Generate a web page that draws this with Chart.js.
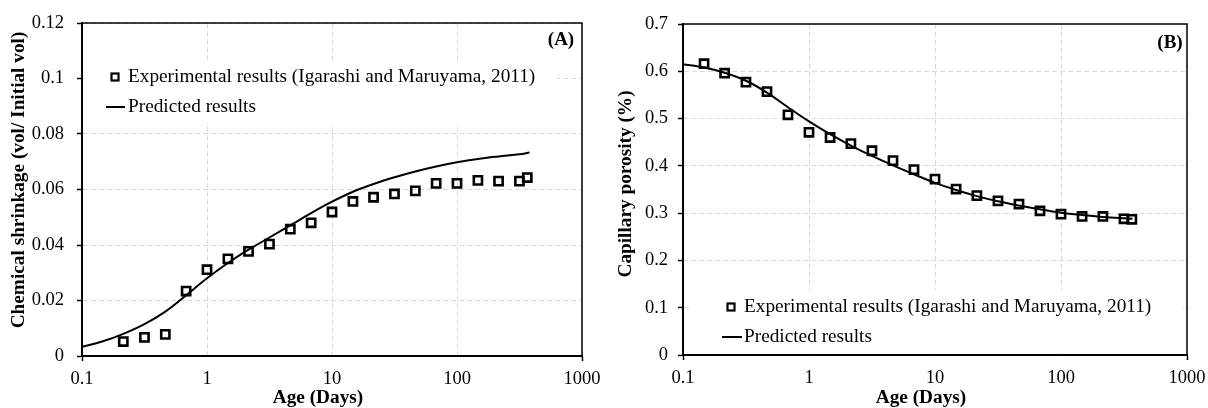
<!DOCTYPE html>
<html>
<head>
<meta charset="utf-8">
<script src="https://cdn.jsdelivr.net/npm/chart.js@4.4.1/dist/chart.umd.min.js"></script>
<style>
  html, body { margin: 0; padding: 0; background: #fff; }
  .wrap { display: flex; width: 1208px; height: 408px; }
  canvas { display: block; }
</style>
</head>
<body>
<div class="wrap">
  <canvas id="chartA" width="604" height="408"></canvas>
  <canvas id="chartB" width="604" height="408"></canvas>
</div>
<script>
// Axis ticks
const xTicks = [0.1, 1, 10, 100, 1000];
const yTicksA = [0, 0.02, 0.04, 0.06, 0.08, 0.1, 0.12];
const yTicksB = [0, 0.1, 0.2, 0.3, 0.4, 0.5, 0.6, 0.7];

// (A) chemical shrinkage
const ageExpA = [0.214, 0.316, 0.464, 0.681, 1, 1.47, 2.15, 3.16, 4.64, 6.81, 10, 14.7, 21.5, 31.6, 46.4, 68.1, 100, 147, 215, 316, 365];
const shrinkExp = [0.0052, 0.0067, 0.0078, 0.0234, 0.0311, 0.035, 0.0377, 0.0403, 0.0457, 0.048, 0.0519, 0.0557, 0.0572, 0.0584, 0.0595, 0.0622, 0.0622, 0.0633, 0.063, 0.063, 0.0643];
const agePredA = [0.1, 0.147, 0.214, 0.316, 0.464, 0.681, 1, 1.47, 2.15, 3.16, 4.64, 6.81, 10, 14.7, 21.5, 31.6, 46.4, 68.1, 100, 147, 215, 316, 380];
const shrinkPred = [0.0033, 0.0053, 0.008, 0.0115, 0.016, 0.0219, 0.028, 0.0335, 0.0383, 0.0427, 0.0471, 0.0515, 0.0556, 0.0592, 0.062, 0.0644, 0.0665, 0.0683, 0.0698, 0.071, 0.0719, 0.0727, 0.0733];

// (B) capillary porosity
const ageExpB = [0.147, 0.214, 0.316, 0.464, 0.681, 1, 1.47, 2.15, 3.16, 4.64, 6.81, 10, 14.7, 21.5, 31.6, 46.4, 68.1, 100, 147, 215, 316, 365];
const porosityExp = [0.616, 0.596, 0.577, 0.557, 0.508, 0.471, 0.46, 0.447, 0.432, 0.411, 0.392, 0.372, 0.351, 0.337, 0.326, 0.319, 0.305, 0.298, 0.293, 0.293, 0.288, 0.287];
const agePredB = [0.1, 0.147, 0.214, 0.316, 0.464, 0.681, 1, 1.47, 2.15, 3.16, 4.64, 6.81, 10, 14.7, 21.5, 31.6, 46.4, 68.1, 100, 147, 215, 316, 370];
const porosityPred = [0.615, 0.608, 0.597, 0.58, 0.555, 0.524, 0.494, 0.467, 0.443, 0.421, 0.401, 0.382, 0.364, 0.349, 0.336, 0.325, 0.316, 0.308, 0.301, 0.296, 0.292, 0.289, 0.288];

const labelExp = 'Experimental results (Igarashi and Maruyama, 2011)';
const labelPred = 'Predicted results';
const xTitle = 'Age (Days)';

const SERIF = "'Liberation Serif', 'Times New Roman', serif";
Chart.defaults.font.family = SERIF;
Chart.defaults.color = '#000';

const toPoints = (xs, ys) => xs.map((x, i) => ({ x: x, y: ys[i] }));
const fmt = v => String(Number(v.toFixed(4)));

// legend box, frame, axis titles and panel letter
const decor = {
  id: 'decor',
  afterDatasetsDraw(chart, args, opts) {
    const ctx = chart.ctx;
    const a = chart.chartArea;
    const lg = opts.legend;
    ctx.save();
    ctx.fillStyle = '#fff';
    ctx.fillRect(lg.x, lg.y, lg.w, lg.h);

    ctx.strokeStyle = '#000';
    ctx.lineWidth = 2.2;
    ctx.strokeRect(lg.markX - 3.5, lg.row1 - 3.5, 7, 7);
    ctx.lineWidth = 2;
    ctx.beginPath();
    ctx.moveTo(lg.lineX1, lg.row2);
    ctx.lineTo(lg.lineX2, lg.row2);
    ctx.stroke();

    ctx.fillStyle = '#000';
    ctx.font = '19.3px ' + SERIF;
    ctx.textBaseline = 'middle';
    ctx.textAlign = 'left';
    ctx.fillText(chart.data.datasets[0].label, lg.textX, lg.row1);
    ctx.fillText(chart.data.datasets[1].label, lg.textX, lg.row2);

    // top and right frame
    ctx.lineWidth = 1.5;
    ctx.beginPath();
    ctx.moveTo(a.left, a.top);
    ctx.lineTo(a.right, a.top);
    ctx.lineTo(a.right, a.bottom);
    ctx.stroke();

    ctx.font = 'bold 19px ' + SERIF;
    ctx.textAlign = 'center';
    ctx.fillText(opts.panel, opts.panelX, opts.panelY);
    ctx.restore();
  },
  afterDraw(chart, args, opts) {
    const ctx = chart.ctx;
    ctx.save();
    ctx.fillStyle = '#000';
    ctx.font = 'bold 19.3px ' + SERIF;
    ctx.textAlign = 'center';
    ctx.textBaseline = 'middle';
    ctx.fillText(xTitle, opts.xTitleX, opts.xTitleY);
    ctx.translate(opts.yTitleX, opts.yTitleY);
    ctx.rotate(-Math.PI / 2);
    ctx.fillText(opts.yTitle, 0, 0);
    ctx.restore();
  }
};

function makeChart(id, o) {
  return new Chart(document.getElementById(id), {
    type: 'scatter',
    data: {
      datasets: [{
        label: labelExp,
        data: toPoints(o.expX, o.expY),
        pointStyle: 'rect',
        pointRadius: 5.8,
        pointHoverRadius: 5.8,
        borderColor: '#000',
        backgroundColor: 'rgba(0,0,0,0)',
        borderWidth: 2.6
      }, {
        type: 'line',
        label: labelPred,
        data: toPoints(o.predX, o.predY),
        borderColor: '#000',
        borderWidth: 2,
        pointRadius: 0,
        fill: false,
        tension: 0.35
      }]
    },
    options: {
      responsive: false,
      animation: false,
      devicePixelRatio: 1,
      layout: { padding: { left: 0, right: o.padRight, top: o.padTop, bottom: 0 } },
      plugins: {
        legend: { display: false },
        tooltip: { enabled: false },
        decor: {
          legend: o.legend, panel: o.panel, panelX: o.panelX, panelY: o.panelY,
          yTitle: o.yTitle, yTitleX: o.yTitleX, yTitleY: o.yTitleY,
          xTitleX: o.xTitleX, xTitleY: 398.5
        }
      },
      scales: {
        x: {
          type: 'logarithmic',
          min: 0.1, max: 1000,
          afterBuildTicks: s => { s.ticks = xTicks.map(v => ({ value: v })); },
          afterFit: s => { s.height = o.xHeight; s.paddingLeft = 0; s.paddingRight = 0; },
          ticks: { callback: v => fmt(v), font: { size: 18.5 }, color: '#000', padding: 7, maxRotation: 0, autoSkip: false },
          grid: {
            color: '#d9d9d9', lineWidth: 1, tickLength: 5, tickWidth: 1.5,
            tickColor: c => (c.index === 0 || c.index === xTicks.length - 1) ? '#000' : 'rgba(0,0,0,0)'
          },
          border: { display: true, color: '#000', width: 2, dash: [5, 3] }
        },
        y: {
          min: o.yTicks[0], max: o.yTicks[o.yTicks.length - 1],
          afterBuildTicks: s => { s.ticks = o.yTicks.map(v => ({ value: v })); },
          afterFit: s => { s.width = o.yWidth; s.paddingTop = 0; s.paddingBottom = 0; },
          ticks: { callback: v => fmt(v), font: { size: 18.5 }, color: '#000', padding: o.yPad },
          grid: { color: '#d9d9d9', lineWidth: 1, tickLength: 5, tickWidth: 1.5, tickColor: '#000' },
          border: { display: true, color: '#000', width: 2, dash: [5, 3] }
        }
      }
    },
    plugins: [decor]
  });
}

makeChart('chartA', {
  expX: ageExpA, expY: shrinkExp, predX: agePredA, predY: shrinkPred,
  yTicks: yTicksA, yTitle: 'Chemical shrinkage (vol/ Initial vol)',
  yTitleX: 19, yTitleY: 180, xTitleX: 318,
  yWidth: 82, yPad: 13, xHeight: 52, padRight: 22, padTop: 23,
  legend: { x: 84, y: 60, w: 473, h: 63, markX: 115, textX: 128, row1: 77, row2: 107, lineX1: 106, lineX2: 125 },
  panel: '(A)', panelX: 561, panelY: 40
});

makeChart('chartB', {
  expX: ageExpB, expY: porosityExp, predX: agePredB, predY: porosityPred,
  yTicks: yTicksB, yTitle: 'Capillary porosity (%)',
  yTitleX: 22, yTitleY: 184, xTitleX: 317,
  yWidth: 79, yPad: 10, xHeight: 53, padRight: 21, padTop: 24,
  legend: { x: 86, y: 290, w: 493, h: 63, markX: 127, textX: 140, row1: 307, row2: 337, lineX1: 118, lineX2: 138 },
  panel: '(B)', panelX: 566, panelY: 43
});
</script>
</body>
</html>
